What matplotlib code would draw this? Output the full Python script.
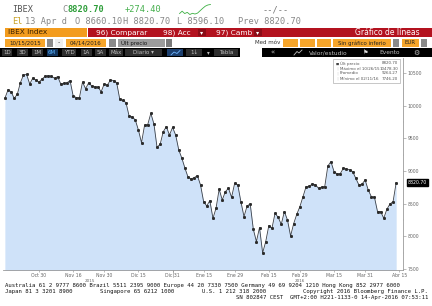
import matplotlib
matplotlib.use('Agg')
import matplotlib.pyplot as plt
import matplotlib.transforms as mtransforms
from matplotlib.patches import Rectangle
from matplotlib.lines import Line2D
import numpy as np
import pandas as pd

# ---------------- data ----------------
holidays = ['2015-12-25', '2016-01-01', '2016-03-25', '2016-03-28']
dates = pd.bdate_range('2015-10-15', '2016-04-14')
dates = dates[~dates.isin(pd.to_datetime(holidays))]

prices = [
    10113, 10240, 10214, 10113, 10174, 10352, 10470, 10478.3, 10332, 10423,
    10390, 10362, 10410, 10450, 10460, 10450, 10420, 10445, 10332, 10340,
    10352, 10382, 10148, 10125, 10122, 10362, 10260, 10352, 10300, 10290,
    10285, 10214, 10332, 10315, 10393, 10385, 10352, 10098, 10080, 10047,
    9842, 9830, 9781, 9628, 9434, 9704, 9710, 9883, 9720, 9363,
    9409, 9602, 9679, 9551, 9668, 9551, 9322, 9195, 9042, 8904,
    8878, 8900, 8929, 8787,
    8531, 8465, 8547, 8277, 8430, 8721, 8557, 8684, 8736, 8598,
    8812, 8787, 8531, 8302, 8465, 8496, 8109, 7920, 8135, 7746.2,
    7920, 8166, 8124, 8353, 8292, 8185, 8378, 8251, 8006, 8195,
    8338, 8455, 8608, 8761, 8765, 8802, 8790, 8736, 8755, 8761,
    9077, 9143, 8990, 8955, 8960, 9042, 9030, 9020, 8990, 8888, 8787,
    8800, 8863, 8710, 8608, 8600, 8378, 8380, 8277, 8414, 8496,
    8531, 8820.70,
]

tick_dates = ['2015-10-30', '2015-11-16', '2015-11-30', '2015-12-15', '2015-12-31',
              '2016-01-15', '2016-01-29', '2016-02-15', '2016-02-29', '2016-03-15',
              '2016-03-31', '2016-04-15']
tick_labels = ['Oct 30', 'Nov 16', 'Nov 30', 'Dic 15', 'Dic 31', 'Ene 15',
               'Ene 29', 'Feb 15', 'Feb 29', 'Mar 15', 'Mar 31', 'Abr 15']
y_ticks = [7500, 8000, 8500, 9000, 9500, 10000, 10500]

legend_names = ['Últ precio', 'Máximo el 10/26/15', 'Promedio', 'Mínimo el 02/11/16']
legend_values = ['8820.70', '10478.30', '9264.27', '7746.20']

spark = [5, 6, 5, 5.5, 4.6, 5.1, 4.8, 5.2, 6.2, 7.2, 8.1, 8.6, 8.8]

# ---------------- figure ----------------
W, H = 432, 306
fig = plt.figure(figsize=(W / 100, H / 100), dpi=100)
fig.patch.set_facecolor('white')
MONO = 'DejaVu Sans Mono'
SANS = 'DejaVu Sans'


def fx(x):
    return x / W


def fy(y):
    return 1 - y / H


def box(x0, y0, x1, y1, color, z=0):
    fig.patches.append(Rectangle((fx(x0), fy(y1)), (x1 - x0) / W, (y1 - y0) / H,
                                 transform=fig.transFigure, facecolor=color,
                                 edgecolor='none', zorder=z))


def pline(xs, ys, color, lw=0.5, z=2):
    fig.lines.append(Line2D([fx(v) for v in xs], [fy(v) for v in ys],
                            transform=fig.transFigure, color=color, lw=lw, zorder=z))


def txt(x, y, s, size=6.2, color='#444444', ha='left', family=MONO, **kw):
    fig.text(fx(x), fy(y), s, ha=ha, va='center', fontsize=size, color=color,
             family=family, **kw)


# header row 1
txt(12, 10, 'IBEX', color='#555555')
txt(62, 10, 'C', color='#888888')
txt(68, 10, '8820.70', color='#2e9e3a', weight='bold')
txt(125, 10, '+274.40', color='#46b04e')
txt(263, 10, '--/--', color='#777777')
sax = fig.add_axes([fx(178), fy(15), 34 / W, 11 / H])
sax.plot(range(len(spark)), spark, color='#3cb043', lw=0.6)
sax.axis('off')

# header row 2
txt(12, 22, 'El', color='#c9a227')
txt(25, 22, '13 Apr d', color='#888888')
txt(75, 22, 'O 8660.10', color='#888888')
txt(123, 22, 'H 8820.70', color='#888888')
txt(177, 22, 'L 8596.10', color='#888888')
txt(238, 22, 'Prev 8820.70', color='#888888')

# bar row
box(5, 28, 87, 37, '#f39c1e')
txt(8, 32.5, 'IBEX Index', size=5.3, color='#3a2000', family=SANS)
box(88, 28, 432, 37, '#b3121f')
txt(96, 32.5, '96) Comparar', size=5.3, color='white', family=SANS)
txt(163, 32.5, '98) Acc', size=5.3, color='white', family=SANS)
box(198, 29.5, 206, 35.5, '#8a0d17')
txt(202, 32.5, '▾', size=4.5, color='white', family=SANS, ha='center')
txt(216, 32.5, '97) Camb', size=5.3, color='white', family=SANS)
box(254, 29.5, 262, 35.5, '#8a0d17')
txt(258, 32.5, '▾', size=4.5, color='white', family=SANS, ha='center')
txt(420, 32.5, 'Gráfico de líneas', size=5.5, color='white', family=SANS, ha='right')

# date row
box(5, 39, 45, 47, '#f6a52a')
txt(25, 43, '10/15/2015', size=4.0, color='#222222', family=SANS, ha='center')
box(47, 39, 53, 47, '#8a8a8a')
box(55, 39, 63, 47, '#eeeeee')
txt(59, 43, '-', size=4.5, color='#222222', family=SANS, ha='center')
box(66, 39, 106, 47, '#f6a52a')
txt(86, 43, '04/14/2016', size=4.0, color='#222222', family=SANS, ha='center')
box(109, 39, 116, 47, '#8a8a8a')
box(118, 39, 165, 47, '#9c9c9c')
txt(121, 43, 'Últ precio', size=4.0, color='#111111', family=SANS)
box(166, 39, 172, 47, '#7a7a7a')
txt(255, 43, 'Med móv', size=4.0, color='#333333', family=SANS)
box(283, 39, 298, 47, '#f6a52a')
box(300, 39, 315, 47, '#f6a52a')
box(317, 39, 331, 47, '#f6a52a')
box(333, 39, 391, 47, '#f6a52a')
txt(362, 43, 'Sin gráfico inferio', size=3.9, color='#222222', family=SANS, ha='center')
box(393, 39, 399, 47, '#8a8a8a')
box(402, 39, 419, 47, '#f6a52a')
txt(410.5, 43, 'EUR', size=4.0, color='#222222', family=SANS, ha='center')
box(421, 39, 427, 47, '#8a8a8a')

# button row
box(0, 48, 240, 57, '#000000')
btn_lbl = ['1D', '3D', '1M', '6M', 'YTD', '1A', '5A', 'Máx']
btn_cx = [7, 22, 37, 52, 69, 86, 100, 116]
for lbl, cx in zip(btn_lbl, btn_cx):
    hw = 5.5 if len(lbl) < 3 else 7
    col = '#12355e' if lbl == '6M' else '#2e2e2e'
    box(cx - hw, 49, cx + hw, 56, col, z=1)
    txt(cx, 52.5, lbl, size=4.0, family=SANS, ha='center',
        color='#5bb4ff' if lbl == '6M' else '#bdbdbd')
box(125, 49, 162, 56, '#2e2e2e', z=1)
txt(143, 52.5, 'Diario ▾', size=4.0, family=SANS, ha='center', color='#bdbdbd')
box(167, 49, 183, 56, '#1c3f6e', z=1)
pline([171, 174, 177, 180], [55, 52, 53.5, 50.5], '#6fb6ff', lw=0.6)
box(186, 49, 202, 56, '#2e2e2e', z=1)
txt(194, 52.5, '1↓', size=4.0, family=SANS, ha='center', color='#bdbdbd')
txt(208, 52.5, '▾', size=4.0, family=SANS, ha='center', color='#bdbdbd')
box(214, 49, 238, 56, '#2e2e2e', z=1)
txt(226, 52.5, 'Tabla', size=4.0, family=SANS, ha='center', color='#bdbdbd')
box(262, 48, 432, 57, '#000000')
txt(273, 52.5, '«', size=5, family=SANS, ha='center', color='#bdbdbd')
pline([294, 297, 299, 302], [55, 51.5, 53, 50], '#bdbdbd', lw=0.6)
txt(309, 52.5, 'Valor/estudio', size=4.2, family=SANS, color='#bdbdbd')
txt(366, 52.5, '⚑', size=4.5, family=SANS, ha='center', color='#dddddd')
txt(379, 52.5, 'Evento', size=4.2, family=SANS, color='#bdbdbd')
txt(416, 52.5, '⚙', size=5, family=SANS, ha='center', color='#bdbdbd')

# ---------------- chart ----------------
ax = fig.add_axes([fx(3), fy(270), 400 / W, 212 / H])
x = np.arange(len(prices))
ax.fill_between(x, prices, 7000, color='#cfe2f9', lw=0)
ax.plot(x, prices, color='#3a3f47', lw=0.6, marker='s', ms=1.1, mec='#2a2a2a', mfc='#2a2a2a')
ax.set_ylim(7485, 10730)
ax.set_xlim(-0.6, 128.2)
for s in ['top', 'left']:
    ax.spines[s].set_visible(False)
for s in ['right', 'bottom']:
    ax.spines[s].set_color('#9a9a9a')
    ax.spines[s].set_linewidth(0.6)

tick_idx = np.searchsorted(dates.values, pd.to_datetime(tick_dates).values)
ax.set_xticks(tick_idx)
ax.set_xticklabels(tick_labels, fontsize=3.3, color='#666666')
ax.tick_params(axis='x', length=1.5, width=0.4, color='#888888', pad=1.0)
ax.yaxis.tick_right()
ax.set_yticks(y_ticks)
ax.set_yticklabels([str(v) for v in y_ticks], fontsize=3.3, color='#666666')
ax.set_yticks(np.arange(7750, 10750, 500), minor=True)
ax.tick_params(axis='y', which='major', length=2, width=0.4, color='#888888', pad=1.5)
ax.tick_params(axis='y', which='minor', length=1, width=0.3, color='#aaaaaa')
ax.set_facecolor('white')
# year boundary tick
yb = list(tick_labels).index('Dic 31')
ax.plot([tick_idx[yb], tick_idx[yb]], [7485, 7380], color='#888888', lw=0.4, clip_on=False)
txt(90, 280.5, '2015', size=3.0, family=SANS, ha='center', color='#666666')
txt(300, 280.5, '2016', size=3.0, family=SANS, ha='center', color='#666666')

# last price label
tr = mtransforms.blended_transform_factory(ax.transAxes, ax.transData)
ax.text(1.012, prices[-1], f'{prices[-1]:.2f}', transform=tr, fontsize=3.3, color='white',
        va='center', ha='left',
        bbox=dict(boxstyle='square,pad=0.25', fc='black', ec='black'))

# legend box
box(333, 59, 400, 83, '#ffffff', z=3)
fig.patches.append(Rectangle((fx(333), fy(83)), 67 / W, 24 / H, transform=fig.transFigure,
                             facecolor='none', edgecolor='#b0b0b0', lw=0.5, zorder=4))
for i, (nm, val) in enumerate(zip(legend_names, legend_values)):
    yy = 63.5 + i * 5
    mark = '■' if i == 0 else '│'
    fig.text(fx(336), fy(yy), mark, fontsize=2.4, color='#444444' if i == 0 else '#aaaaaa',
             va='center', ha='left', zorder=5)
    fig.text(fx(340), fy(yy), nm, fontsize=2.9, color='#555555', va='center', ha='left', zorder=5)
    fig.text(fx(398), fy(yy), val, fontsize=2.9, color='#555555', va='center', ha='right', zorder=5)

# ---------------- footer ----------------
FS = 4.1
txt(5, 285, 'Australia 61 2 9777 8600 Brazil 5511 2395 9000 Europe 44 20 7330 7500 '
            'Germany 49 69 9204 1210 Hong Kong 852 2977 6000', size=FS, color='#111111')
txt(5, 291.5, 'Japan 81 3 3201 8900', size=FS, color='#111111')
txt(100, 291.5, 'Singapore 65 6212 1000', size=FS, color='#111111')
txt(202, 291.5, 'U.S. 1 212 318 2000', size=FS, color='#111111')
txt(428, 291.5, 'Copyright 2016 Bloomberg Finance L.P.', size=FS, color='#111111', ha='right')
txt(428, 298, 'SN 802847 CEST  GMT+2:00 H221-1133-0 14-Apr-2016 07:53:11', size=FS,
    color='#111111', ha='right')

fig.savefig('out.png', dpi=100)
